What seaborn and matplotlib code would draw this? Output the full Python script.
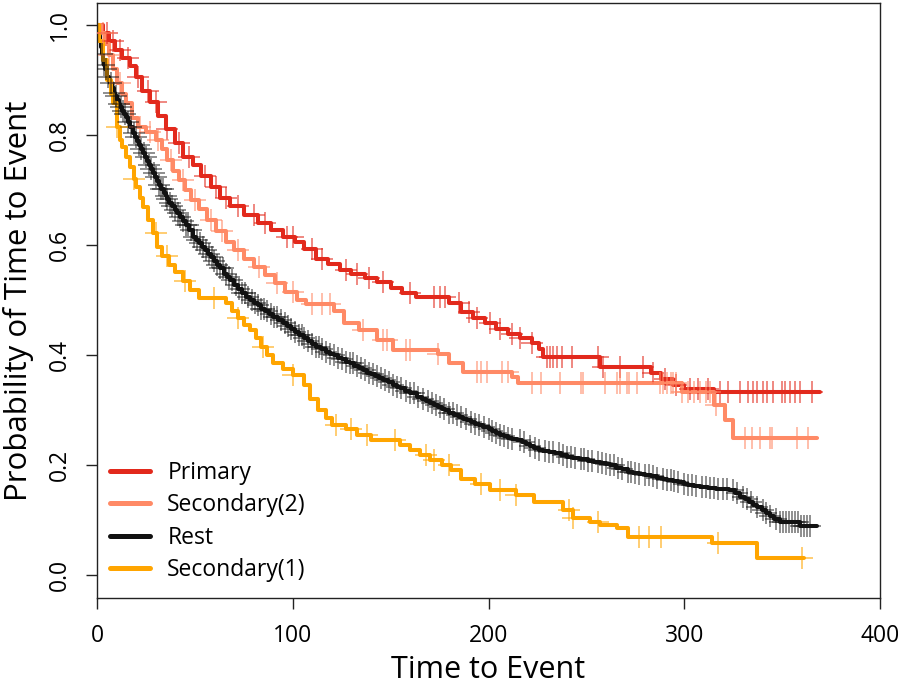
import numpy as np
import pandas as pd
import matplotlib
matplotlib.use("Agg")
import matplotlib.pyplot as plt
import seaborn as sns
from matplotlib.lines import Line2D

# ---------------- data ----------------
groups = ["Primary", "Secondary(2)", "Rest", "Secondary(1)"]
colors = ["#E2291C", "#FF8A66", "#111111", "#FFA500"]

primary_t = [0, 3, 6, 9, 13, 17, 20, 23, 27, 31, 35, 40, 44, 49, 53, 58, 63, 68, 75, 82, 89, 95, 101,
             106, 112, 118, 124, 130, 137, 143, 150, 156, 163, 180, 186, 192, 198, 204, 210, 216, 222,
             226, 228, 257, 283, 288, 294, 300, 315]
primary_s = [1.0, 0.985, 0.97, 0.955, 0.94, 0.925, 0.905, 0.88, 0.86, 0.835, 0.81, 0.785, 0.76, 0.745,
             0.725, 0.705, 0.685, 0.67, 0.655, 0.64, 0.628, 0.615, 0.605, 0.592, 0.575, 0.565, 0.555,
             0.548, 0.54, 0.532, 0.522, 0.512, 0.505, 0.495, 0.478, 0.468, 0.458, 0.448, 0.438, 0.43,
             0.422, 0.41, 0.396, 0.378, 0.367, 0.357, 0.345, 0.338, 0.333]
primary_end = 369.5
primary_cens = [5, 8, 12, 16, 21, 26, 30, 36, 42, 47, 55, 61, 66, 72, 80, 86, 97, 100, 110, 115, 127,
                133, 139, 146, 160, 172, 175, 178, 185, 190, 194, 201, 206, 212, 216, 222, 230, 231.5,
                233, 235, 237.6, 242.7, 256, 258.6, 267, 279, 284, 290, 296, 303, 307, 312, 318, 322.5,
                328.6, 332.7, 335.2, 337.3, 340.3, 342.4, 345.4, 350, 351.5, 354, 356.7, 359, 365.3]

sec2_t = [0, 2, 4, 6, 8, 10, 13, 15, 18, 21, 25, 30, 33, 36, 39, 42, 45, 48, 52, 56, 61, 66, 70, 75, 80,
          86, 91, 96, 102, 107, 121, 126, 134, 143, 151, 174, 180, 187, 212, 215, 299, 315, 321, 325]
sec2_s = [1.0, 0.985, 0.965, 0.945, 0.92, 0.895, 0.875, 0.858, 0.83, 0.815, 0.805, 0.79, 0.775, 0.755,
          0.735, 0.718, 0.7, 0.682, 0.665, 0.645, 0.625, 0.605, 0.59, 0.575, 0.56, 0.545, 0.53, 0.515,
          0.5, 0.492, 0.48, 0.458, 0.445, 0.427, 0.409, 0.402, 0.385, 0.369, 0.36, 0.349, 0.333, 0.309,
          0.282, 0.249]
sec2_end = 368
sec2_cens = [3, 6, 12, 22, 27, 31, 38, 44, 50, 58, 64, 72, 83, 92, 100, 110, 115, 119, 136, 146, 148,
             158, 160, 174, 194, 196, 199, 207, 210, 222, 227, 236.6, 247, 248.5, 259.6, 265.7, 267,
             270.8, 272, 275.6, 287.7, 289, 291, 293, 294, 296, 299, 302, 305, 308, 311, 313, 316, 331,
             334.7, 338.8, 344, 345, 357.7, 363.3]

rest_t = [0, 0.5, 1, 1.5, 2, 2.5, 3, 3.5, 4, 5, 6, 6.6, 7.5, 8.5, 9.3, 10, 11, 12, 13, 14, 15, 16, 17,
          18.5, 19.5, 20.5, 21.5, 22.5, 23.5, 24.5, 25.5, 26.5, 27.5, 28.6, 29.5, 30.5, 31.5, 32.5, 34,
          35, 36, 37, 38.5, 40, 41, 42.5, 44, 45.5, 47, 49, 50.5, 52, 53.5, 55, 56.5, 58, 60, 61.5, 63,
          65, 66.5, 68, 70, 72, 74, 76, 78, 80, 82, 84, 86, 88, 90, 92.5, 95, 97, 99, 101, 103, 105.5,
          108, 110, 112, 114.5, 117, 119, 121, 123, 125, 127, 129, 131.5, 134, 136, 138, 140, 142, 144,
          146, 148.5, 151, 153, 155, 157.5, 160, 163.5, 166, 168, 170, 172, 174, 176, 178, 180, 182.5,
          185, 187, 189, 191, 193, 195, 197, 200, 202, 204, 206, 208, 210, 212, 214.6, 217, 219, 221,
          223, 226, 228, 231, 234, 237, 240, 243, 246, 249, 251, 254, 257, 260, 262, 265, 268, 271,
          274, 277, 280, 283, 286, 289, 291, 294, 297, 300, 302, 305, 308, 312, 316, 320, 323, 326,
          328.6, 331, 333, 335, 337, 339.5, 342, 344, 346, 349, 359]
rest_s = [1.0, 0.99, 0.98, 0.97, 0.96, 0.948, 0.936, 0.928, 0.92, 0.905, 0.9, 0.894, 0.886, 0.877,
          0.87, 0.864, 0.857, 0.85, 0.844, 0.839, 0.833, 0.824, 0.815, 0.803, 0.796, 0.789, 0.782,
          0.774, 0.767, 0.76, 0.752, 0.745, 0.738, 0.73, 0.723, 0.716, 0.709, 0.702, 0.694, 0.689,
          0.683, 0.677, 0.67, 0.664, 0.658, 0.651, 0.643, 0.636, 0.628, 0.615, 0.609, 0.603, 0.597,
          0.59, 0.584, 0.578, 0.57, 0.563, 0.558, 0.548, 0.542, 0.537, 0.528, 0.52, 0.513, 0.506, 0.5,
          0.495, 0.49, 0.484, 0.479, 0.474, 0.469, 0.463, 0.458, 0.453, 0.447, 0.442, 0.437, 0.431,
          0.425, 0.42, 0.415, 0.41, 0.406, 0.402, 0.399, 0.395, 0.392, 0.388, 0.385, 0.38, 0.376,
          0.372, 0.368, 0.365, 0.362, 0.358, 0.355, 0.35, 0.346, 0.342, 0.339, 0.335, 0.331, 0.324,
          0.319, 0.316, 0.313, 0.309, 0.306, 0.302, 0.299, 0.295, 0.291, 0.287, 0.284, 0.281, 0.278,
          0.275, 0.272, 0.269, 0.265, 0.262, 0.258, 0.255, 0.252, 0.249, 0.247, 0.245, 0.241, 0.238,
          0.235, 0.231, 0.228, 0.226, 0.223, 0.221, 0.218, 0.215, 0.213, 0.211, 0.21, 0.208, 0.206,
          0.204, 0.201, 0.199, 0.195, 0.192, 0.188, 0.185, 0.183, 0.181, 0.179, 0.177, 0.175, 0.173,
          0.171, 0.169, 0.166, 0.164, 0.162, 0.16, 0.158, 0.157, 0.156, 0.155, 0.149, 0.142, 0.138,
          0.133, 0.128, 0.124, 0.118, 0.113, 0.108, 0.102, 0.096, 0.089]
rest_end = 368
rest_cens = [2.5, 3.5, 4.5, 5.5, 7, 8.5, 9.5, 11, 12.5, 13.5, 14.5, 16, 17.5, 19, 20, 21.5, 22.5, 24,
             25, 26.5, 27.5, 29, 30, 31.5, 32.5, 33.5, 35, 36, 37.5, 38.5, 40, 41.5, 42.5, 44, 45.5,
             46.5, 48, 49.5, 51, 52.5, 54, 55.5, 57, 58.5, 60, 61.5, 63, 64.5, 66, 67.5, 69, 71, 72.5,
             74, 75.5, 77, 79, 80.5, 82, 84, 85.5, 87, 89, 90.5, 92, 94, 96, 97.5, 99, 101, 103, 104.5,
             106, 108, 110, 112, 113.5, 115, 117, 119, 121, 123, 125, 127, 129, 131, 133, 135, 137, 139,
             141, 143, 145, 147, 149, 151, 153, 155.5, 158, 160, 162, 164, 166.5, 169, 171, 173, 175,
             177.5, 180, 182, 184, 186, 188.5, 191, 193, 195, 197.5, 200, 202, 204, 206, 208, 210, 212,
             216, 218, 221, 224, 226, 229, 231, 233, 236, 238, 240, 242, 244, 247, 249, 251, 253, 256,
             258, 260, 262, 264, 266, 268, 271, 273, 275, 277, 280, 282, 284, 286, 289, 291, 293, 295,
             297, 300, 302, 304, 306, 309, 311, 313, 315, 317, 320, 322, 325, 327, 330, 332, 334, 337,
             340, 342, 344, 347, 349, 350.5, 352, 353.5, 355, 356.5, 358, 359.5, 361, 362.5, 364]

sec1_t = [0, 1, 3, 5, 7, 8, 10, 12, 13, 15, 17, 19, 20, 22, 23.5, 26, 28.6, 30.6, 33, 37, 40, 44, 47.5,
          52, 66, 69, 72, 75, 78, 81, 84, 87, 90, 95, 100, 106, 109, 113, 117, 120, 127, 133, 140, 155,
          160, 165, 170, 176, 181, 186, 193, 201, 214, 223, 238, 243, 252, 257, 265.7, 271, 314, 337]
sec1_s = [1.0, 0.97, 0.936, 0.9, 0.875, 0.858, 0.815, 0.79, 0.778, 0.76, 0.742, 0.72, 0.705, 0.685,
          0.669, 0.645, 0.622, 0.596, 0.58, 0.564, 0.55, 0.535, 0.518, 0.504, 0.495, 0.48, 0.468,
          0.455, 0.445, 0.43, 0.415, 0.4, 0.385, 0.375, 0.364, 0.345, 0.32, 0.3, 0.285, 0.273, 0.265,
          0.255, 0.245, 0.236, 0.228, 0.218, 0.209, 0.2, 0.19, 0.175, 0.165, 0.155, 0.145, 0.133,
          0.118, 0.104, 0.096, 0.091, 0.085, 0.069, 0.058, 0.031]
sec1_end = 361
sec1_cens = [10, 19, 30, 36, 45, 60, 72, 85, 100, 122, 130, 138, 152, 168, 172, 180, 196, 206, 214,
             241, 243, 256, 277, 282, 288, 317, 360]

# ---------------- build tables ----------------
curves = {
    "Primary": (primary_t, primary_s, primary_end, primary_cens),
    "Secondary(2)": (sec2_t, sec2_s, sec2_end, sec2_cens),
    "Rest": (rest_t, rest_s, rest_end, rest_cens),
    "Secondary(1)": (sec1_t, sec1_s, sec1_end, sec1_cens),
}

rows = []
cens_rows = []
for g, (t, s, end, cens) in curves.items():
    tt = list(t) + [end]
    ss = list(s) + [s[-1]]
    for a, b in zip(tt, ss):
        rows.append((g, a, b))
    ta = np.asarray(t, float)
    sa = np.asarray(s, float)
    for c in cens:
        idx = np.searchsorted(ta, c, side="right") - 1
        cens_rows.append((g, c, sa[idx]))
df = pd.DataFrame(rows, columns=["group", "time", "surv"])
cdf = pd.DataFrame(cens_rows, columns=["group", "time", "surv"])

# ---------------- plot ----------------
sns.set_style("white")
plt.rcParams["font.family"] = ["Open Sans", "DejaVu Sans"]
plt.rcParams["text.color"] = "black"
plt.rcParams["axes.labelcolor"] = "black"
plt.rcParams["xtick.color"] = "black"
plt.rcParams["ytick.color"] = "black"

fig = plt.figure(figsize=(8.98, 6.91), dpi=100)
ax = fig.add_axes([0.108, 0.1346, 0.872, 0.8611])

palette = dict(zip(groups, colors))
for g in groups:
    sns.lineplot(data=df[df.group == g], x="time", y="surv", color=palette[g],
                 estimator=None, sort=False, drawstyle="steps-post", lw=2.9, ax=ax, legend=False)
    sub = cdf[cdf.group == g]
    sns.scatterplot(data=sub, x="time", y="surv", color=palette[g], marker="+", s=230,
                    linewidth=1.1, alpha=0.7 if g != "Rest" else 0.6, ax=ax, legend=False,
                    zorder=3)

ax.set_xlim(0, 400)
ax.set_ylim(-0.042, 1.04)
ax.set_xticks([0, 100, 200, 300, 400])
ax.set_xticklabels(["0", "100", "200", "300", "400"])
ax.set_yticks([0.0, 0.2, 0.4, 0.6, 0.8, 1.0])
ax.set_yticklabels(["0.0", "0.2", "0.4", "0.6", "0.8", "1.0"], rotation=90, va="center")
ax.tick_params(axis="both", direction="out", length=8, width=1, labelsize=16.5, color="#222222",
               left=True, bottom=True)
ax.tick_params(axis="x", pad=11)
ax.tick_params(axis="y", pad=10)
for sp in ax.spines.values():
    sp.set_visible(True)
    sp.set_color("#222222")
    sp.set_linewidth(1.0)

ax.set_xlabel("Time to Event", fontsize=22, labelpad=5)
ax.set_ylabel("Probability of Time to Event", fontsize=22.5, labelpad=10)

handles = [Line2D([0], [0], color=c, lw=3.6, solid_capstyle="round") for c in colors]
ax.legend(handles, groups, loc="lower left", bbox_to_anchor=(0.0166, 0.027), frameon=False,
          fontsize=16.5, handlelength=1.75, handletextpad=0.75, labelspacing=0.36, borderpad=0.0,
          borderaxespad=0.0)

fig.savefig("out.png", dpi=100)
